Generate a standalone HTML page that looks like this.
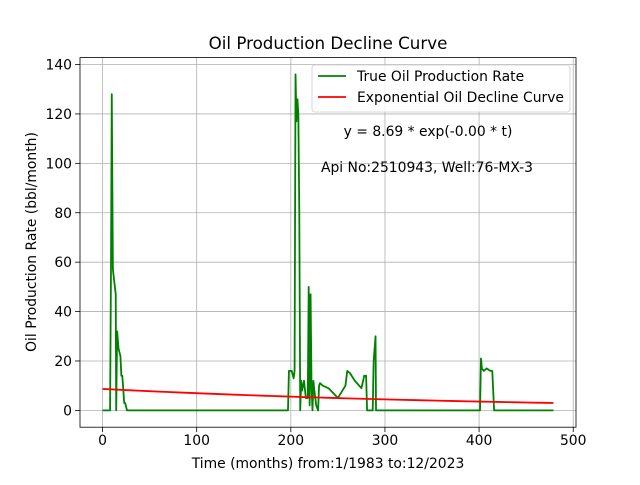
<!DOCTYPE html>
<html><head><meta charset="utf-8"><style>
body{margin:0;background:#fff}
svg{font-family:"DejaVu Sans","Liberation Sans",sans-serif}
</style></head><body>
<svg id="c" width="640" height="480" xmlns="http://www.w3.org/2000/svg"></svg>
<script>
const months=[0,8,9,9.8,11,14,14.5,15.5,17,19,20,21,23,24,26,197,198,201,203,204,205,206,207,208,209,210,211,212,214,216,218,219,220,221,222,223,224,225,227,229,230,231,234,240,250,258,260,263,268,275,278,280,281,282,287,288,290,290.5,291.5,293,401,402,403,405,408,412,414,416,479];
const rates=[0,0,60,128,57,47,0,32,25,22,14,14,3,3,0,0,16,16,13,16,136,117,126,120,80,0,12,8,12,5,5,50,2,47,10,0,12,8,2,0,10,11,10,9,5,10,16,15,12,9,14,14,0,0,0,20,30,0,0,0,0,21,17,16,17,16,16,0,0];
const fitA=[8.69];
const fitK=[0.00222];
const fitT=[0,479];
const xTicks=[0,100,200,300,400,500];
const yTicks=[0,20,40,60,80,100,120,140];
const L=80,R=576,T=57.6,B=427.2;
const xmin=-23.95,xmax=502.95,ymin=-6.8,ymax=142.8;
const X=v=>L+(v-xmin)/(xmax-xmin)*(R-L);
const Y=v=>B-(v-ymin)/(ymax-ymin)*(B-T);
const svg=document.getElementById('c');
const NS='http://www.w3.org/2000/svg';
function mk(tag,attrs,parent){const e=document.createElementNS(NS,tag);for(const k in attrs)e.setAttribute(k,attrs[k]);(parent||svg).appendChild(e);return e;}
// grid
xTicks.forEach(t=>{
const g=mk('line',{x1:X(t),x2:X(t),y1:T,y2:B,stroke:'#b0b0b0','stroke-width':0.8});


const tk=mk('line',{x1:X(t),x2:X(t),y1:B,y2:B+4.9,stroke:'#000','stroke-width':0.8});


const tx=mk('text',{x:X(t),y:B+18,'font-size':13.9,'text-anchor':'middle'});
tx.textContent=t;


});
yTicks.forEach(t=>{
const g=mk('line',{x1:L,x2:R,y1:Y(t),y2:Y(t),stroke:'#b0b0b0','stroke-width':0.8});


const tk=mk('line',{x1:L-4.9,x2:L,y1:Y(t),y2:Y(t),stroke:'#000','stroke-width':0.8});


const tx=mk('text',{x:L-8,y:Y(t)+5,'font-size':13.9,'text-anchor':'end'});
tx.textContent=t;


});
// series
const gp=mk('polyline',{points:months.map((m,i)=>X(m)+','+Y(rates[i])).join(' '),fill:'none',stroke:'#008000','stroke-width':1.8,'stroke-linejoin':'round'});


const pts=[];for(let t=fitT[0];t<=fitT[1];t+=10){pts.push(t);}pts.push(fitT[1]);
const rp=mk('polyline',{points:pts.map(t=>X(t)+','+Y(fitA[0]*Math.exp(-fitK[0]*t))).join(' '),fill:'none',stroke:'#ff0000','stroke-width':1.8});


// frame
const fr=mk('rect',{x:L,y:T,width:R-L,height:B-T,fill:'none',stroke:'#000','stroke-width':0.8});


</script>
<svg style="position:absolute;left:0;top:0" width="640" height="480" xmlns="http://www.w3.org/2000/svg">
<text x="328" y="49" font-size="16.7" text-anchor="middle">Oil Production Decline Curve</text>
<text x="328" y="468" font-size="13.9" text-anchor="middle">Time (months) from:1/1983 to:12/2023</text>
<text x="0" y="0" font-size="13.9" text-anchor="middle" transform="translate(36,242) rotate(-90)">Oil Production Rate (bbl/month)</text>
<g>
<rect x="312" y="65" width="258" height="47" rx="3" fill="#fff" fill-opacity="0.8" stroke="#ccc" stroke-width="0.8"/>
<line x1="318" x2="346" y1="76" y2="76" stroke="#008000" stroke-width="1.8"/>
<text x="357" y="81" font-size="13.9">True Oil Production Rate</text>
<line x1="318" x2="346" y1="97" y2="97" stroke="#ff0000" stroke-width="1.8"/>
<text x="357" y="102" font-size="13.9">Exponential Oil Decline Curve</text>
</g>
<text x="428" y="136" font-size="13.9" text-anchor="middle">y = 8.69 * exp(-0.00 * t)</text>
<text x="427" y="172" font-size="13.9" text-anchor="middle">Api No:2510943, Well:76-MX-3</text>
</svg>
</body></html>
